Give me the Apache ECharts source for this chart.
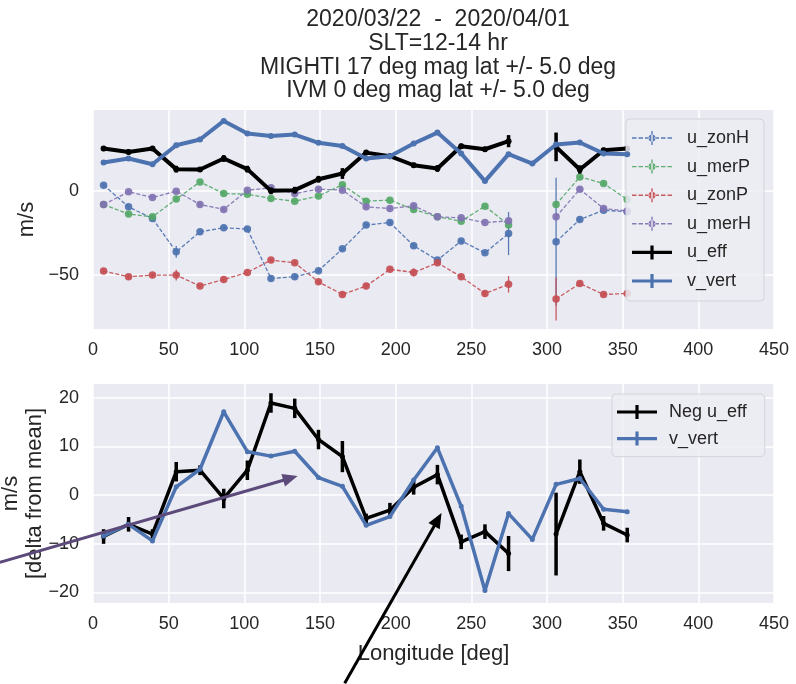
<!DOCTYPE html>
<html><head><meta charset="utf-8">
<script src="https://cdn.jsdelivr.net/npm/echarts@6/dist/echarts.min.js"></script>
<style>html,body{margin:0;padding:0;background:#fff}#c{width:796px;height:684px}</style>
</head><body><div id="c"></div>
<script>
// ---------------- data ----------------
const longitude = [7, 23.5, 39.3, 55, 70.7, 86.4, 102, 117.6, 133.3, 149, 164.8, 180.5, 196.2, 211.9, 227.6, 243.3, 259, 274.6, 290.3, 306, 321.7, 337.4, 353];

const u_zonH = [3.4, -9.5, -16.4, -36.2, -24.3, -21.9, -22.7, -52, -51, -47.4, -34.4, -20.3, -18.8, -32.6, -41.1, -29.7, -36.8, -25.3, null, -30.2, -17, -11.5, -12.4];
const u_zonH_err = [1, 1, 1, 3.5, 1, 1, 1, 1.5, 1.5, 1, 1, 1, 1, 1, 1, 1, 1, 12.8, null, 38, 1, 1, 1];
const u_merP = [-8.1, -13.8, -15.4, -4.9, 5.3, -1.6, -2, -4.5, -6.1, -3.1, 3.6, -6.1, -5.5, -11, -15.4, -18, -9.1, -20.3, null, -8.1, 8.3, 4.4, -5.1];
const u_merP_err = [1, 1, 1, 1, 1, 1, 1, 1, 1, 1, 1, 1, 1, 1, 1, 1, 1, 1.5, null, 2, 1, 1, 1];
const u_zonP = [-47.6, -51, -50, -50, -56.5, -52.6, -48.4, -41.1, -42.7, -54, -61.5, -56.5, -46.6, -48.4, -42.7, -51, -60.9, -55.5, null, -64.2, -55, -61.5, -60.9];
const u_zonP_err = [1, 1, 1, 3.2, 1, 1, 1, 1, 1, 1, 1.5, 1, 1, 2.5, 1, 1, 1, 4.9, null, 12.8, 1, 1, 1];
const u_merH = [-8.1, -0.6, -3.9, -0.2, -8.1, -11, 0.4, 1.8, -1.6, 1, 0.4, -9.5, -10.5, -8.9, -15.4, -16, -18.8, -17.8, null, -15.4, 1, -10.5, -11.9];
const u_merH_err = [1, 1, 1, 1, 1, 1, 1, 1, 1, 1, 1, 1, 1, 1, 1, 1, 1, 1.5, null, 2, 1, 1, 1];
const u_eff = [25.1, 23.1, 25.1, 12.9, 12.7, 19.2, 12.9, 0, 0.4, 6.9, 10.3, 22.7, 20.6, 15.2, 13.3, 26.5, 24.7, 29.5, null, 26.1, 12.7, 24.1, 25.1];
const v_vert = [16.8, 19.2, 15.8, 27.1, 30.5, 41.5, 34, 32.6, 33.4, 28.5, 26.6, 19.2, 20.6, 28.1, 34.6, 22.2, 5.8, 21.8, 16.2, 27.5, 28.7, 22.2, 21.8];

const neg_u_eff = [-8.5, -6, -8, 4.8, 5.1, -0.7, 5.1, 18.9, 17.8, 11.4, 7.9, -4.8, -3.1, 1.6, 4.2, -9.6, -7.5, -12, null, -8, 4.8, -5.8, -8.2];
const u_eff_err = [1.5, 1.5, 1, 2, 1, 2, 2, 2, 2, 2, 3.2, 1, 1.5, 1.5, 2, 1.5, 1.5, 3.6, null, 8.5, 2.5, 1.5, 1.5];
const v_vert_delta = [-8.4, -6, -9.4, 1.7, 5.3, 17.1, 8.9, 8, 9, 3.6, 1.8, -6.2, -4.4, 3.1, 9.7, -2.3, -19.6, -3.8, -9.1, 2.2, 3.4, -2.9, -3.4];

const xTicks = [0, 50, 100, 150, 200, 250, 300, 350, 400, 450];
const yTicksTop = [-50, 0];
const yTicksBottom = [-20, -10, 0, 10, 20];

const titleLines = ['2020/03/22  -  2020/04/01', 'SLT=12-14 hr', 'MIGHTI 17 deg mag lat +/- 5.0 deg', 'IVM 0 deg mag lat +/- 5.0 deg'];

// annotation arrows (data coords of lower panel: [longitude, value])
const arrowPurple = [[-61.6, -13.8], [135.2, 3.9]];
const arrowBlack = [[166.3, -38.6], [230.3, -3.7]];

// ---------------- styling ----------------
const FONT = "'Liberation Sans', Arial, sans-serif";
const TXT = '#262626';
const C_BLUE = '#4C72B0', C_GREEN = '#55A868', C_RED = '#C44E52', C_PURPLE = '#8172B2';

const grids = [
  {left: 93, right: 22, top: 110, height: 219, show: true, backgroundColor: '#EAEAF2', borderWidth: 0, outerBoundsMode: 'none', containLabel: false},
  {left: 93, right: 22, top: 384, height: 219, show: true, backgroundColor: '#EAEAF2', borderWidth: 0, outerBoundsMode: 'none', containLabel: false}
];

function xAxisDef(gi, withName) {
  return {
    type: 'value', gridIndex: gi, min: 0, max: 450, interval: 50,
    axisLine: {show: false}, axisTick: {show: false},
    axisLabel: {color: TXT, fontSize: 18, fontFamily: FONT, margin: 12},
    splitLine: {show: true, lineStyle: {color: '#ffffff', width: 1.5}},
    name: withName ? 'Longitude [deg]' : '', nameLocation: 'middle', nameGap: 40, nameMoveOverlap: false,
    nameTextStyle: {color: TXT, fontSize: 22, fontFamily: FONT}
  };
}
function yAxisDef(gi, min, max, ticks, name, gap) {
  return {
    type: 'value', gridIndex: gi, min, max,
    axisLine: {show: false},
    axisTick: {show: false, customValues: ticks},
    axisLabel: {color: TXT, fontSize: 18, fontFamily: FONT, margin: 14, customValues: ticks,
      formatter: v => (v < 0 ? '\u2212' + Math.abs(v) : String(v))},
    splitLine: {show: true, lineStyle: {color: '#ffffff', width: 1.5}},
    name, nameLocation: 'middle', nameGap: gap, nameRotate: 90, nameMoveOverlap: false,
    nameTextStyle: {color: TXT, fontSize: 22, fontFamily: FONT, lineHeight: 24, align: 'center'}
  };
}

function pts(vals) { return longitude.map((x, i) => [x, vals[i] == null ? '-' : vals[i]]); }

function lineSeries(name, gi, vals, color, o) {
  return {
    type: 'line', name, xAxisIndex: gi, yAxisIndex: gi, data: pts(vals),
    connectNulls: false, symbol: 'circle', symbolSize: o.sym, showSymbol: true,
    lineStyle: {color, width: o.w, type: o.dash ? [4, 2] : 'solid', opacity: o.op || 1},
    itemStyle: {color, opacity: o.op || 1},
    emphasis: {disabled: true}, z: o.z, animation: false
  };
}
function errSeries(name, gi, vals, errs, color, width, z, op) {
  const data = [];
  vals.forEach((v, i) => { if (v != null && errs[i]) data.push([longitude[i], v, errs[i]]); });
  return {
    type: 'custom', name, xAxisIndex: gi, yAxisIndex: gi, z, silent: true, animation: false,
    data, encode: {x: 0, y: 1},
    renderItem: (params, api) => {
      const x = api.value(0), y = api.value(1), e = api.value(2);
      const p1 = api.coord([x, y - e]), p2 = api.coord([x, y + e]);
      return {type: 'line', shape: {x1: p1[0], y1: p1[1], x2: p2[0], y2: p2[1]},
        style: {stroke: color, lineWidth: width, opacity: op || 1}};
    }
  };
}

// legend icons (errorbar-like)
const ICON_DASH = 'path://M0,6.3h4.5v1.4h-4.5z M6.5,6.3h4.5v1.4h-4.5z M13,6.3h4.5v1.4h-4.5z M22.5,6.3h4.5v1.4h-4.5z M29,6.3h4.5v1.4h-4.5z M35.5,6.3h4.5v1.4h-4.5z M19.3,0h1.4v14h-1.4z M16.5,7a3.5,3.5 0 1,0 7,0a3.5,3.5 0 1,0 -7,0z';
const ICON_THICK = 'path://M0,5.4h40v3.2h-40z M18.4,0h3.2v14h-3.2z';

const legendCommon = {
  orient: 'vertical', itemHeight: 14,
  backgroundColor: 'rgba(236,236,243,0.85)', borderColor: '#d4d4dc', borderWidth: 1, borderRadius: 4,
  selectedMode: false
};

const option = {
  backgroundColor: '#ffffff',
  animation: false,
  title: {
    text: titleLines.join('\n'), left: 433, top: 3, textAlign: 'center',
    textStyle: {color: TXT, fontSize: 23, lineHeight: 23.7, fontWeight: 'normal', fontFamily: FONT}
  },
  grid: grids,
  xAxis: [xAxisDef(0, false), xAxisDef(1, true)],
  yAxis: [yAxisDef(0, -82, 48, yTicksTop, 'm/s', 54), yAxisDef(1, -22.15, 22.8, yTicksBottom, 'm/s\n[delta from mean]', 46)],
  legend: [
    Object.assign({}, legendCommon, {
      left: 626, top: 119, padding: [10, 13, 11, 6], itemGap: 10.6, itemWidth: 40,
      textStyle: {color: TXT, fontSize: 18, fontFamily: FONT, padding: [0, 0, 0, 10]},
      data: [
        {name: 'u_zonH', icon: ICON_DASH}, {name: 'u_merP', icon: ICON_DASH},
        {name: 'u_zonP', icon: ICON_DASH}, {name: 'u_merH', icon: ICON_DASH},
        {name: 'u_eff', icon: ICON_THICK}, {name: 'v_vert', icon: ICON_THICK}
      ]
    }),
    Object.assign({}, legendCommon, {
      left: 612, top: 394, padding: [9, 18, 9, 5], itemGap: 8.6, itemWidth: 42,
      textStyle: {color: TXT, fontSize: 18, fontFamily: FONT, padding: [0, 0, 0, 6]},
      data: [{name: 'Neg u_eff', icon: ICON_THICK}, {name: 'v_vert', icon: ICON_THICK}]
    })
  ],
  series: [
    lineSeries('u_zonH', 0, u_zonH, C_BLUE, {sym: 7.5, w: 1.3, dash: true, z: 2, op: 0.92}),
    errSeries('u_zonH_e', 0, u_zonH, u_zonH_err, C_BLUE, 1.3, 2, 0.92),
    lineSeries('u_merP', 0, u_merP, C_GREEN, {sym: 7.5, w: 1.3, dash: true, z: 2, op: 0.92}),
    errSeries('u_merP_e', 0, u_merP, u_merP_err, C_GREEN, 1.3, 2, 0.92),
    lineSeries('u_zonP', 0, u_zonP, C_RED, {sym: 7.5, w: 1.3, dash: true, z: 2, op: 0.92}),
    errSeries('u_zonP_e', 0, u_zonP, u_zonP_err, C_RED, 1.3, 2, 0.92),
    lineSeries('u_merH', 0, u_merH, C_PURPLE, {sym: 7.5, w: 1.3, dash: true, z: 2, op: 0.92}),
    errSeries('u_merH_e', 0, u_merH, u_merH_err, C_PURPLE, 1.3, 2, 0.92),
    lineSeries('u_eff', 0, u_eff, '#000000', {sym: 6, w: 4, z: 3}),
    errSeries('u_eff_e', 0, u_eff, u_eff_err, '#000000', 3.5, 3),
    lineSeries('v_vert', 0, v_vert, C_BLUE, {sym: 6, w: 4, z: 4}),

    lineSeries('Neg u_eff', 1, neg_u_eff, '#000000', {sym: 5, w: 3.5, z: 3}),
    errSeries('Neg u_eff_e', 1, neg_u_eff, u_eff_err, '#000000', 3.5, 3),
    lineSeries('v_vert', 1, v_vert_delta, C_BLUE, {sym: 5, w: 3.5, z: 4})
  ]
};

const chart = echarts.init(document.getElementById('c'), null, {renderer: 'canvas'});
chart.setOption(option);

function arrowGraphic(pair, color) {
  const a = chart.convertToPixel({xAxisIndex: 1, yAxisIndex: 1}, pair[0]);
  const b = chart.convertToPixel({xAxisIndex: 1, yAxisIndex: 1}, pair[1]);
  const dx = b[0] - a[0], dy = b[1] - a[1], L = Math.hypot(dx, dy);
  const ux = dx / L, uy = dy / L, hl = 15, hw = 6.5;
  const bx = b[0] - ux * hl, by = b[1] - uy * hl;
  return [
    {type: 'line', shape: {x1: a[0], y1: a[1], x2: bx + ux * 2, y2: by + uy * 2}, style: {stroke: color, lineWidth: 3}, z: 100},
    {type: 'polygon', shape: {points: [[b[0], b[1]], [bx - uy * hw, by + ux * hw], [bx + uy * hw, by - ux * hw]]}, style: {fill: color}, z: 100}
  ];
}
chart.setOption({graphic: [].concat(arrowGraphic(arrowPurple, '#5b4a7a'), arrowGraphic(arrowBlack, '#000000'))});
</script>
</body></html>
